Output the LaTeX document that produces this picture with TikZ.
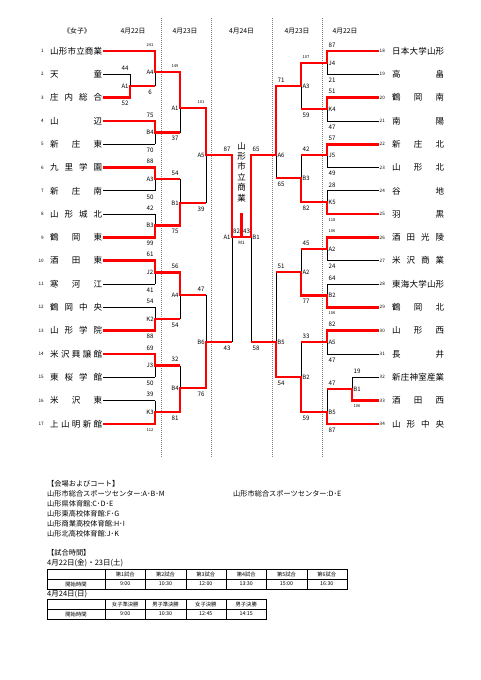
\documentclass[tikz,border=0pt]{standalone}
\usepackage{fontspec}
\newfontfamily\jp{Noto Sans CJK JP}
\makeatletter
\def\spread#1{\expandafter\spread@a#1\@nil}
\def\spread@a#1#2\@nil{#1\ifx\relax#2\relax\else\hfill\spread@a#2\@nil\fi}
\makeatother
\newcommand\sm{\fontsize{4}{4}\selectfont}
\tikzset{
  win/.style={red, line width=2.6pt},
  lose/.style={black, line width=0.7pt},
  team/.style={anchor=west, inner sep=1pt, font=\jp\fontsize{8.5}{9}\selectfont},
  num/.style={anchor=east, inner sep=0.5pt, font=\jp\fontsize{4.6}{5}\selectfont},
  score/.style={inner sep=0pt, font=\jp\fontsize{6.2}{7}\selectfont},
  mlab/.style={inner sep=0pt, font=\jp\fontsize{6}{6}\selectfont},
  hd/.style={inner sep=0pt, font=\jp\fontsize{6.8}{7}\selectfont},
  info/.style={anchor=west, inner sep=0pt, font=\jp\fontsize{7.2}{8}\selectfont},
  cell/.style={inner sep=0pt, font=\jp\fontsize{5.3}{6}\selectfont},
  guide/.style={gray, line width=0.5pt, dash pattern=on 1pt off 1pt}
}
\begin{document}
\begin{tikzpicture}[x=1pt,y=-1pt]
  \fill[white] (0,0) rectangle (481,680);
  \useasboundingbox (0,0) rectangle (481,680);
  % headers
  \node[hd] (h0) at (77,31) {《女子》};
  \node[hd] (h1) at (133,31) {4月22日};
  \node[hd] (h2) at (185,31) {4月23日};
  \node[hd] (h3) at (241.5,31) {4月24日};
  \node[hd] (h4) at (297,31) {4月23日};
  \node[hd] (h5) at (345,31) {4月22日};
  \foreach \x in {161,211,272,322}
    \draw[guide] (\x,18) -- (\x,457);
  % teams left
  \foreach \n/\school/\X in {1/山形市立商業/155, 2/天童/130, 3/庄内総合/130,
      4/山辺/155, 5/新庄東/155, 6/九里学園/155, 7/新庄南/155, 8/山形城北/155,
      9/鶴岡東/155, 10/酒田東/155, 11/寒河江/155, 12/鶴岡中央/155,
      13/山形学院/155, 14/米沢興譲館/155, 15/東桜学館/155, 16/米沢東/155,
      17/上山明新館/155}{
    \pgfmathsetmacro\y{51+(\n-1)*23.3}
    \node[num] (n\n) at (44.5,\y) {\n};
    \node[team] (t\n) at (49,\y) {\makebox[52pt]{\spread\school}};
    \draw[lose] (t\n.east) -- (\X,\y);
  }
  % teams right
  \foreach \n/\school/\X in {18/日本大学山形/327, 19/高畠/327, 20/鶴岡南/327,
      21/南陽/327, 22/新庄北/327, 23/山形北/327, 24/谷地/327, 25/羽黒/327,
      26/酒田光陵/327, 27/米沢商業/327, 28/東海大学山形/327, 29/鶴岡北/327,
      30/山形西/327, 31/長井/327, 32/新庄神室産業/352, 33/酒田西/352,
      34/山形中央/327}{
    \pgfmathsetmacro\y{51+(\n-18)*23.3}
    \node[num] (n\n) at (385.5,\y) {\n};
    \node[team] (t\n) at (391,\y) {\makebox[52pt]{\spread\school}};
    \draw[lose] (n\n.west) -- (\X,\y);
  }
  % matches left
  \foreach \nm/\X/\ya/\yb/\yo/\Xn/\lab/\sa/\sb in {
      lp/130/74.3/97.6/86/155/A1/44/52,
      l11/155/51/86/72/180/A4/{\sm 241}/6,
      l12/155/120.9/144.2/132.5/180/B4/75/70,
      l13/155/167.5/190.8/179/180/A3/88/50,
      l14/155/214.1/237.4/225.7/180/B3/42/99,
      l15/155/260.7/284/272.3/180/J2/61/41,
      l16/155/307.3/330.6/319/180/K2/54/88,
      l17/155/353.9/377.2/365.5/180/J3/69/50,
      l18/155/400.5/423.8/412/180/K3/39/{\sm 112},
      l21/180/72/132.5/108/206/A1/{\sm 149}/37,
      l22/180/179/225.7/203/206/B1/54/75,
      l23/180/272.3/319/295/206/A4/56/54,
      l24/180/365.5/412/388/206/B4/32/81,
      l31/206/108/203/155/232/A5/{\sm 101}/39,
      l32/206/295/388/342/232/B6/47/76,
      ls/232/155/342/237/241.5/A1/87/43}{
    \coordinate (\nm) at (\X,\yo);
    \draw[lose] (\X,\ya) -- (\X,\yb) (\nm) -- (\Xn,\yo);
    \node[mlab] (\nm-m) at (\X-5,\yo) {\lab};
    \node[score] (\nm-a) at (\X-5,\ya-6) {\sa};
    \node[score] (\nm-b) at (\X-5,\yb+6) {\sb};
  }
  % matches right
  \foreach \nm/\X/\ya/\yb/\yo/\Xn/\lab/\sa/\sb in {
      r11/327/51/74.3/63/301/J4/87/21,
      r12/327/97.6/120.9/109/301/K4/51/47,
      r13/327/144.2/167.5/155/301/J5/57/49,
      r14/327/190.8/214.1/202/301/K5/28/{\sm 118},
      r15/327/237.4/260.7/249/301/A2/{\sm 106}/24,
      r16/327/284/307.3/295.5/301/B2/64/{\sm 106},
      r17/327/330.6/353.9/342/301/A5/82/47,
      rp/352/377.2/400.5/389/327/B1/19/{\sm 106},
      r18/327/389/423.8/412/301/B5/47/87,
      r21/301/63/109/86/276/A3/{\sm 107}/59,
      r22/301/155/202/178/276/B3/42/82,
      r23/301/249/295.5/272/276/A2/45/77,
      r24/301/342/412/377/276/B2/33/59,
      r31/276/86/178/155/251/A6/71/65,
      r32/276/272/377/342/251/B5/51/54,
      rs/251/155/342/237/241.5/B1/65/58}{
    \coordinate (\nm) at (\X,\yo);
    \draw[lose] (\X,\ya) -- (\X,\yb) (\nm) -- (\Xn,\yo);
    \node[mlab] (\nm-m) at (\X+5,\yo) {\lab};
    \node[score] (\nm-a) at (\X+5,\ya-6) {\sa};
    \node[score] (\nm-b) at (\X+5,\yb+6) {\sb};
  }
  % final
  \coordinate (f) at (241.5,237);
  \coordinate (champ) at (241.5,213);
  \node[score] (f-a) at (236.5,231) {82};
  \node[score] (f-b) at (246.5,231) {43};
  \node[inner sep=0pt, font=\jp\fontsize{4.5}{5}\selectfont] (f-m) at (241.5,243) {M1};
  \node[inner sep=0pt, align=center, font=\jp\fontsize{8.5}{10.4}\selectfont] (cn) at (241.5,172)
    {山\\形\\市\\立\\商\\業};
  % winners
  \draw[win] (t1.east) -| (l11) -| (l21) -| (l31) -| (ls) -| (champ);
  \draw[win] (t3.east) -| (lp) -- (lp -| l11);
  \draw[win] (t4.east) -| (l12) -- (l12 -| l21);
  \draw[win] (t6.east) -| (l13) -- (l13 -| l21);
  \draw[win] (t9.east) -| (l14) -| (l22) -- (l22 -| l31);
  \draw[win] (t10.east) -| (l15) -| (l23) -- (l23 -| l31);
  \draw[win] (t13.east) -| (l16) -- (l16 -| l21);
  \draw[win] (t14.east) -| (l17) -- (l17 -| l21);
  \draw[win] (t17.east) -| (l18) -| (l24) -| (l32) -- (l32 -| ls);
  \draw[win] (n18.west) -| (r11) -| (r21) -| (r31) -| (rs) -- (f);
  \draw[win] (n20.west) -| (r12) -- (r12 -| r21);
  \draw[win] (n22.west) -| (r13) -- (r13 -| r21);
  \draw[win] (n25.west) -| (r14) -| (r22) -- (r22 -| r31);
  \draw[win] (n26.west) -| (r15) -- (r15 -| r21);
  \draw[win] (n29.west) -| (r16) -| (r23) -- (r23 -| r31);
  \draw[win] (n30.west) -| (r17) -- (r17 -| r21);
  \draw[win] (n33.west) -| (rp) -- (rp -| r11);
  \draw[win] (n34.west) -| (r18) -| (r24) -| (r32) -- (r32 -| rs);
  % venues
  \node[info] (v0) at (47,484) {【会場およびコート】};
  \node[info] (v1) at (47,494) {山形市総合スポーツセンター:A･B･M};
  \node[info] (v2) at (47,504) {山形県体育館:C･D･E};
  \node[info] (v3) at (47,514) {山形東高校体育館:F･G};
  \node[info] (v4) at (47,524) {山形商業高校体育館:H･I};
  \node[info] (v5) at (47,534) {山形北高校体育館:J･K};
  \node[info] (v6) at (233,494) {山形市総合スポーツセンター:D･E};
  % times
  \node[info] (g0) at (47,553) {【試合時間】};
  \node[info, font=\jp\fontsize{7.5}{8}\selectfont] (g1) at (47,563) {4月22日(金)・23日(土)};
  \draw[line width=0.9pt] (47,569) rectangle (347,589);
  \draw[line width=0.4pt] (47,579) -- (347,579);
  \foreach \x in {105,145.3,185.7,226,266.3,306.7}
    \draw[line width=0.4pt] (\x,569) -- (\x,589);
  \node[cell] (a0) at (76,584) {開始時間};
  \foreach \i/\cx/\ta/\tb in {1/125.2/第1試合/9:00, 2/165.5/第2試合/10:30,
      3/205.8/第3試合/12:00, 4/246.2/第4試合/13:30, 5/286.5/第5試合/15:00,
      6/326.8/第6試合/16:30}{
    \node[cell] (a\i) at (\cx,574) {\ta};
    \node[cell] (b\i) at (\cx,584) {\tb};
  }
  \node[info, font=\jp\fontsize{7.5}{8}\selectfont] (g2) at (47,594) {4月24日(日)};
  \draw[line width=0.9pt] (47,599) rectangle (266.3,619);
  \draw[line width=0.4pt] (47,609) -- (266.3,609);
  \foreach \x in {105,145.3,185.7,226}
    \draw[line width=0.4pt] (\x,599) -- (\x,619);
  \node[cell] (c0) at (76,614) {開始時間};
  \foreach \i/\cx/\ta/\tb in {1/125.2/女子準決勝/9:00, 2/165.5/男子準決勝/10:30,
      3/205.8/女子決勝/12:45, 4/246.2/男子決勝/14:15}{
    \node[cell] (c\i) at (\cx,604) {\ta};
    \node[cell] (d\i) at (\cx,614) {\tb};
  }
\end{tikzpicture}
\end{document}
